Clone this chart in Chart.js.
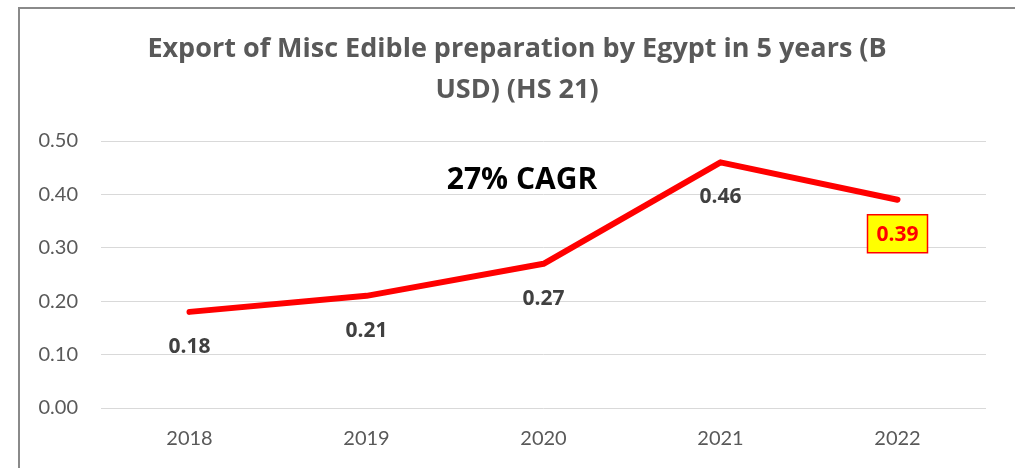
<!DOCTYPE html>
<html>
<head>
<meta charset="utf-8">
<script src="https://cdn.jsdelivr.net/npm/chart.js@4/dist/chart.umd.min.js"></script>
<style>
  html, body { margin: 0; padding: 0; background: #fff; overflow: hidden; }
  #wrap { position: relative; width: 1015px; height: 468px; }
</style>
</head>
<body>
<div id="wrap"><canvas id="c" width="1015" height="468"></canvas></div>
<script>
// Export values of HS 21 from Egypt, billions of USD
const years = ['2018', '2019', '2020', '2021', '2022'];
const exportValues = [0.18, 0.21, 0.27, 0.46, 0.39];
const valueLabels = ['0.18', '0.21', '0.27', '0.46', '0.39'];
const yMin = 0;
const yMax = 0.5;
const yStep = 0.1;
const titleLines = ['Export of Misc Edible preparation by Egypt in 5 years (B', 'USD) (HS 21)'];
const cagrNote = '27% CAGR';
const highlightIndex = 4;

const FONT = 'Lato, "Open Sans", sans-serif';
const BOLD_FONT = '"Open Sans", Lato, sans-serif';

// Frame, heading, growth note and value labels
const decorations = {
  id: 'decorations',
  beforeDraw(chart) {
    const ctx = chart.ctx;
    ctx.save();
    ctx.fillStyle = '#ffffff';
    ctx.fillRect(0, 0, chart.width, chart.height);
    ctx.strokeStyle = '#8a8a8a';
    ctx.lineWidth = 2;
    ctx.strokeRect(19, 8, 1200, 600);
    ctx.restore();
  },
  afterDraw(chart) {
    const ctx = chart.ctx;
    const cx = 517;
    ctx.save();
    // heading
    ctx.fillStyle = '#595959';
    ctx.font = 'bold 27px ' + BOLD_FONT;
    ctx.textAlign = 'center';
    ctx.textBaseline = 'alphabetic';
    ctx.fillText(titleLines[0], cx, 57);
    ctx.fillText(titleLines[1], cx, 98);

    // growth note
    ctx.fillStyle = '#000000';
    ctx.font = 'bold 30px ' + BOLD_FONT;
    ctx.textBaseline = 'middle';
    ctx.fillText(cagrNote, 522, 180);

    // value labels under each point
    const meta = chart.getDatasetMeta(0);
    ctx.font = 'bold 21px ' + BOLD_FONT;
    meta.data.forEach((pt, i) => {
      const x = pt.x;
      const y = pt.y + 34;
      if (i === highlightIndex) {
        const w = 60, h = 38;
        ctx.fillStyle = '#FFFF00';
        ctx.fillRect(x - w / 2, y - h / 2, w, h);
        ctx.strokeStyle = '#FF0000';
        ctx.lineWidth = 1.5;
        ctx.strokeRect(x - w / 2, y - h / 2, w, h);
        ctx.fillStyle = '#FF0000';
      } else {
        ctx.fillStyle = '#404040';
      }
      ctx.fillText(valueLabels[i], x, y + 1);
    });
    ctx.restore();
  }
};

new Chart(document.getElementById('c'), {
  type: 'line',
  data: {
    labels: years,
    datasets: [{
      data: exportValues,
      borderColor: '#FF0000',
      borderWidth: 6,
      borderCapStyle: 'round',
      borderJoinStyle: 'round',
      pointRadius: 0,
      pointHoverRadius: 0,
      tension: 0,
      fill: false
    }]
  },
  options: {
    responsive: false,
    animation: false,
    events: [],
    layout: { padding: { left: 0, right: 29, top: 141, bottom: 0 } },
    plugins: {
      legend: { display: false },
      title: { display: false },
      tooltip: { enabled: false }
    },
    scales: {
      x: {
        offset: true,
        grid: { display: false, drawTicks: false },
        border: { display: false },
        ticks: {
          color: '#595959',
          font: { family: FONT, size: 20 },
          padding: 19,
          maxRotation: 0
        },
        afterFit(scale) { scale.height = 60; }
      },
      y: {
        min: yMin,
        max: yMax,
        grid: { color: '#d9d9d9', lineWidth: 1, drawTicks: false },
        border: { display: false },
        ticks: {
          stepSize: yStep,
          color: '#595959',
          font: { family: FONT, size: 20 },
          padding: 23,
          callback: (v) => Number(v).toFixed(2)
        },
        afterFit(scale) { scale.width = 101; }
      }
    }
  },
  plugins: [decorations]
});
</script>
</body>
</html>
